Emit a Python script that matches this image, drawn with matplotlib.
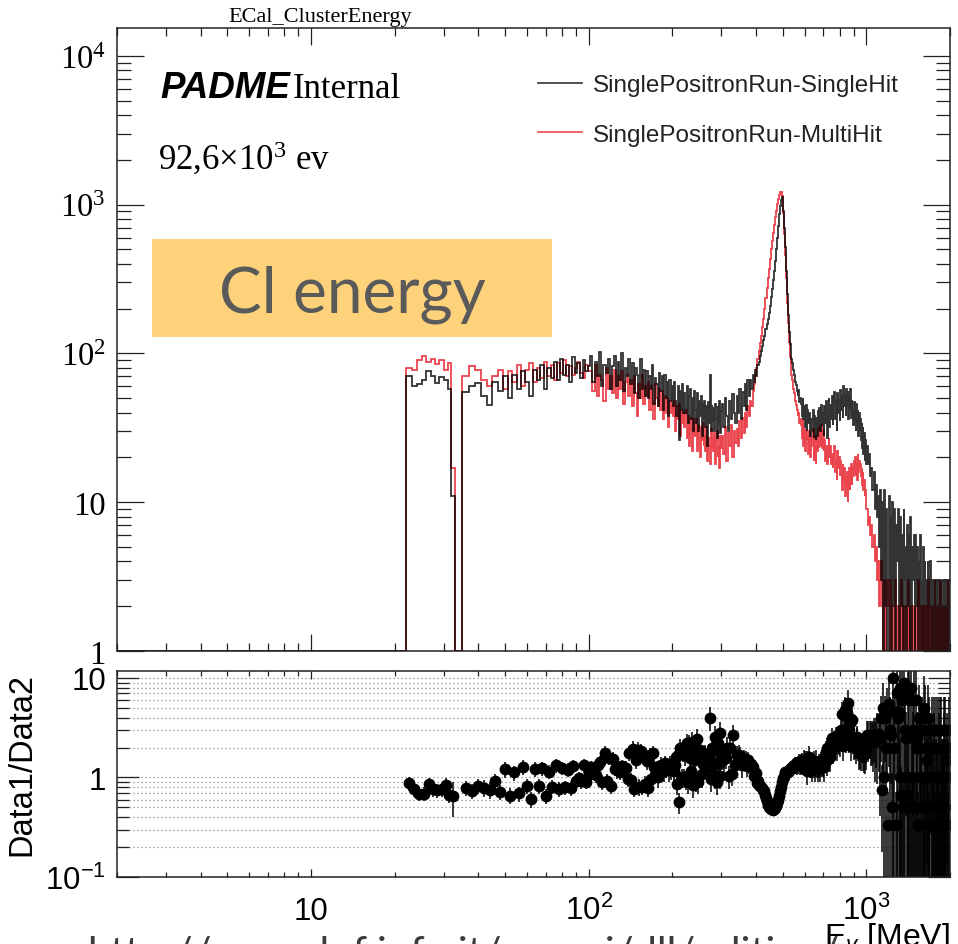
import numpy as np
import matplotlib

matplotlib.use("Agg")
import matplotlib.pyplot as plt
from matplotlib.lines import Line2D
from matplotlib.patches import Rectangle
from matplotlib.ticker import FuncFormatter, LogLocator, NullFormatter

plt.rcParams["font.family"] = ["Liberation Sans", "DejaVu Sans"]
plt.rcParams["mathtext.fontset"] = "custom"
plt.rcParams["mathtext.rm"] = "Liberation Sans"
plt.rcParams["mathtext.it"] = "Liberation Sans:italic"

# Cluster energy binning [MeV]: fine at low energy, coarser towards 2 GeV.
edges = np.concatenate([
    [1.0], np.arange(22, 34), [35],
    np.arange(37, 101, 2), np.arange(101, 301, 2),
    np.arange(301, 701, 4), np.arange(701, 1001, 5),
    np.arange(1001, 2002, 10),
]).astype(float)

# Counts per bin, SinglePositronRun-SingleHit
single_hit = np.array([
    0,
    70, 60, 62, 66, 76, 70, 63, 69, 66, 58, 11,
    0,
    # 35 - 101
    55, 60, 63, 52, 45, 64, 56, 70, 50, 72, 58, 76, 64, 52, 78, 66, 84,
    58, 80, 68, 88, 66, 92, 72, 84, 64, 94, 74, 86, 68, 90, 76, 82,
    # 101 - 301
    96, 64, 88, 70, 102, 60, 84, 74, 92, 58,
    82, 96, 60, 88, 66, 100, 56, 80, 70, 92,
    62, 86, 54, 80, 72, 50, 92, 58, 78, 52,
    76, 50, 70, 58, 84, 46, 68, 62, 44, 74,
    56, 70, 42, 72, 50, 64, 38, 66, 48, 60,
    44, 64, 48, 38, 60, 26, 56, 42, 62, 40,
    54, 40, 60, 34, 52, 58, 36, 50, 30, 56,
    42, 34, 54, 30, 48, 38, 52, 28, 46, 36,
    48, 32, 44, 24, 47, 34, 72, 30, 45, 35,
    43, 30, 46, 36, 27, 44, 33, 48, 29, 41,
    # 301 - 701
    46, 32, 50, 38, 30, 48, 36, 53, 40, 34,
    52, 40, 58, 36, 55, 44, 62, 42, 66, 52,
    66, 58, 72, 64, 78, 70, 84, 88, 96, 104,
    112, 124, 132, 146, 158, 170, 186, 210, 240, 270,
    310, 360, 420, 500, 600, 720, 860, 980, 1080, 1130,
    900, 700, 520, 360, 250, 180, 140, 115, 100, 92,
    86, 78, 72, 64, 61, 56, 52, 57, 47, 50,
    46, 38, 50, 36, 44, 32, 45, 30, 42, 34,
    40, 28, 37, 30, 36, 42, 27, 38, 31, 26,
    37, 28, 41, 31, 43, 30, 39, 45, 33, 40,
    # 701 - 1001
    28, 44, 34, 48, 27, 41, 50, 32, 45, 36,
    52, 33, 46, 55, 36, 48, 30, 54, 40, 49,
    35, 57, 42, 52, 37, 60, 44, 53, 38, 58,
    45, 56, 36, 51, 42, 58, 37, 49, 41, 33,
    47, 35, 44, 30, 46, 33, 42, 28, 40, 30,
    36, 26, 34, 23, 32, 21, 29, 19, 26, 18,
    # 1001 - 2001
    24, 18, 21, 15, 17, 12, 16, 9, 13, 8,
    11, 5, 12, 3, 10, 1, 12, 2, 9, 1,
    11, 3, 8, 1, 10, 2, 9, 1, 7, 4,
    9, 1, 8, 2, 6, 1, 9, 3, 5, 1,
    7, 2, 6, 1, 8, 1, 5, 3, 6, 1,
    6, 2, 5, 1, 4, 2, 6, 1, 3, 1,
    5, 1, 4, 2, 3, 1, 4, 1, 3, 2,
    4, 1, 3, 1, 2, 3, 1, 3, 1, 2,
    3, 1, 2, 3, 1, 3, 1, 2, 1, 3,
    2, 1, 3, 1, 3, 2, 1, 3, 1, 2,
], dtype=float)

# Counts per bin, SinglePositronRun-MultiHit
multi_hit = np.array([
    0,
    80, 78, 90, 96, 88, 92, 85, 90, 78, 86, 17,
    0,
    # 35 - 101
    70, 82, 77, 66, 60, 70, 78, 58, 76, 64, 84, 60, 78, 86, 64, 80, 68,
    88, 70, 84, 66, 86, 74, 90, 70, 82, 72, 80, 88, 74, 68, 84, 76,
    # 101 - 301
    76, 56, 84, 52, 72, 66, 48, 80, 58, 70,
    54, 78, 50, 70, 58, 76, 46, 64, 72, 52,
    66, 44, 70, 54, 38, 62, 50, 72, 46, 60,
    52, 64, 42, 60, 48, 36, 62, 50, 44, 58,
    42, 56, 36, 52, 40, 50, 32, 48, 40, 46,
    38, 48, 30, 44, 36, 46, 28, 42, 34, 40,
    32, 42, 27, 38, 24, 37, 31, 22, 36, 29,
    28, 36, 22, 33, 27, 20, 32, 26, 34, 24,
    28, 22, 32, 19, 27, 24, 18, 31, 23, 27,
    22, 29, 18, 26, 30, 20, 24, 17, 28, 23,
    # 301 - 701
    28, 21, 32, 19, 29, 24, 33, 20, 30, 25,
    31, 24, 35, 27, 37, 29, 40, 32, 44, 38,
    48, 44, 56, 62, 70, 80, 92, 104, 118, 132,
    150, 170, 200, 235, 275, 320, 370, 430, 500, 570,
    650, 730, 820, 910, 1010, 1100, 1170, 1210, 1210, 1150,
    880, 640, 460, 320, 220, 160, 120, 95, 80, 72,
    66, 58, 54, 48, 45, 42, 38, 40, 34, 36,
    33, 27, 36, 24, 31, 22, 30, 26, 28, 21,
    30, 20, 28, 24, 27, 31, 19, 28, 25, 18,
    28, 22, 31, 23, 32, 24, 29, 33, 23, 30,
    # 701 - 1001
    22, 26, 19, 24, 18, 23, 27, 20, 24, 18,
    21, 17, 20, 24, 16, 19, 14, 22, 17, 20,
    15, 19, 16, 12, 18, 14, 17, 11, 15, 13,
    16, 10, 14, 17, 12, 15, 18, 13, 17, 15,
    19, 16, 20, 15, 18, 14, 21, 16, 19, 17,
    18, 15, 17, 13, 16, 12, 14, 11, 12, 9,
    # 1001 - 2001
    9, 7, 8, 6, 7, 5, 6, 4, 5, 3,
    4, 2, 3, 4, 2, 1, 3, 1, 2, 3,
    2, 1, 3, 2, 1, 1, 2, 3, 1, 1,
    2, 1, 1, 3, 1, 2, 1, 1, 2, 1,
    1, 3, 1, 2, 1, 1, 2, 1, 1, 2,
    1, 1, 2, 3, 1, 1, 2, 1, 1, 2,
    1, 2, 1, 1, 2, 1, 1, 3, 1, 1,
    2, 1, 1, 2, 1, 1, 3, 1, 1, 2,
    1, 2, 1, 1, 3, 1, 1, 2, 1, 1,
    1, 2, 1, 1, 2, 1, 3, 1, 1, 1,
], dtype=float)

assert len(single_hit) == len(multi_hit) == len(edges) - 1

legend_labels = ["SinglePositronRun-SingleHit", "SinglePositronRun-MultiHit"]

W, H = 958, 945


def fx(px):
    return px / W


def fy(py):
    return 1 - py / H


def root_label(v, pos):
    if np.isclose(v, 1):
        return "1"
    if np.isclose(v, 10):
        return "10"
    return r"$\mathdefault{10^{%d}}$" % round(np.log10(v))


def log_axes(ax):
    ax.set_xscale("log")
    ax.set_yscale("log")
    for axis in (ax.xaxis, ax.yaxis):
        axis.set_major_locator(LogLocator(base=10, numticks=20))
        axis.set_minor_locator(LogLocator(base=10, subs=np.arange(2, 10),
                                          numticks=20))
        axis.set_major_formatter(FuncFormatter(root_label))
        axis.set_minor_formatter(NullFormatter())
    for sp in ax.spines.values():
        sp.set_linewidth(1.1)
        sp.set_color("#222222")
    ax.tick_params(which="both", direction="in", top=True, right=True,
                   width=0.9, color="#222222")


fig = plt.figure(figsize=(W / 100, H / 100), dpi=100)
ax = fig.add_axes([fx(117), fy(652), fx(950) - fx(117), fy(29) - fy(652)])
axr = fig.add_axes([fx(117), fy(878), fx(950) - fx(117), fy(672) - fy(878)])

# --- spectra ---
log_axes(ax)
ax.stairs(np.maximum(multi_hit, 1), edges, baseline=None,
          color="#e8303a", lw=1.3, alpha=0.9)
ax.stairs(np.maximum(single_hit, 1), edges, baseline=None,
          color="black", lw=1.3, alpha=0.8)
ax.set_xlim(2, 2000)
ax.set_ylim(1, 15400)
ax.tick_params(labelbottom=False)
ax.tick_params(axis="x", which="major", length=12)
ax.tick_params(axis="x", which="minor", length=6)
ax.tick_params(axis="y", which="major", length=19.5, labelsize=23.5, pad=8,
               labelfontfamily="Liberation Serif")
ax.tick_params(axis="y", which="minor", length=10)

handles = [Line2D([], [], color="#333333", lw=1.2),
           Line2D([], [], color="#f04848", lw=1.2)]
ax.legend(handles, legend_labels, loc="upper left",
          bbox_to_anchor=(fx(538), fy(75)), bbox_transform=fig.transFigure,
          frameon=False, fontsize=17.5, handlelength=1.8, handletextpad=0.45,
          borderpad=0, borderaxespad=0, labelspacing=1.15, labelcolor="#222222")

# --- ratio ---
log_axes(axr)
centers = 0.5 * (edges[:-1] + edges[1:])
ok = (single_hit > 0) & (multi_hit > 0)
ratio = single_hit[ok] / multi_hit[ok]
err = ratio * np.sqrt(1 / single_hit[ok] + 1 / multi_hit[ok])
axr.errorbar(centers[ok], ratio, yerr=[np.minimum(err, ratio * 0.999), err],
             fmt="o", color="black", ms=8.5, mew=0, elinewidth=1.1, capsize=0)
axr.set_xlim(2, 2000)
axr.set_ylim(0.1, 11.75)
axr.grid(True, axis="y", which="both", linestyle=(0, (1, 2.2)),
         color="#8a8a8a", linewidth=0.9)
axr.tick_params(axis="x", which="major", length=6, labelsize=22.5, pad=30)
axr.tick_params(axis="x", which="minor", length=3.5)
axr.tick_params(axis="y", which="major", length=16, labelsize=22.5, pad=8)
axr.tick_params(axis="y", which="minor", length=8.5)
axr.set_xticks([10, 100, 1000])
for lab in axr.get_xticklabels():
    lab.set_verticalalignment("baseline")
axr.set_ylabel("Data1/Data2", fontsize=23.5)
axr.yaxis.set_label_coords(-0.096, 0.55)

# --- annotations ---
fig.text(fx(320), fy(22), "ECal_ClusterEnergy", ha="center", va="baseline",
         family="Liberation Serif", fontsize=16)
fig.text(fx(160), fy(98), "PADME", family="Liberation Sans", weight="bold",
         style="italic", fontsize=26.5, va="baseline")
fig.text(fx(293), fy(98), "Internal", family="Liberation Serif",
         fontsize=25, va="baseline")
fig.text(fx(158), fy(170), r"92,6×$\mathdefault{10^{3}}$ ev",
         family="Liberation Serif", fontsize=25, va="baseline")

fig.add_artist(Rectangle((fx(152), fy(338)), fx(552) - fx(152),
                         fy(240) - fy(338), transform=fig.transFigure,
                         facecolor="#fdd27b", edgecolor="none", zorder=5))
fig.text(fx(352), fy(313), "Cl energy", ha="center", va="baseline",
         family="Lato", fontsize=46, color="#5a5a5a", zorder=6)

fig.text(fx(950), fy(947), r"E$_{\gamma}$ [MeV]", ha="right", va="baseline",
         fontsize=23)
fig.text(fx(87), fy(967), "http://www.lnf.infn.it/~raggi/dll/editing/",
         family="Lato", fontsize=30, color="#3c3c3c", va="baseline")

fig.savefig("out.png", dpi=100)
